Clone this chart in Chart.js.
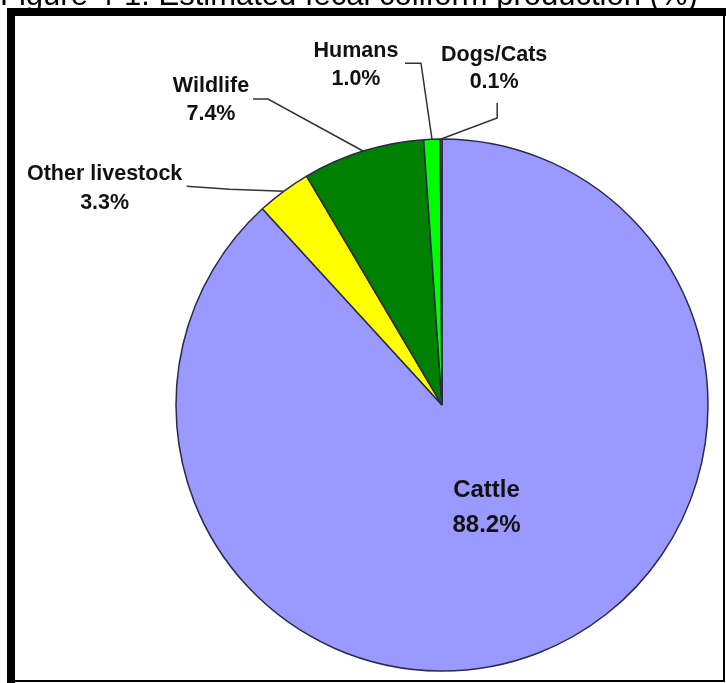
<!DOCTYPE html>
<html><head><meta charset="utf-8">
<script src="https://cdn.jsdelivr.net/npm/chart.js@4.4.1/dist/chart.umd.min.js"></script>
<style>html,body{margin:0;padding:0;background:#fff}canvas{display:block}</style>
</head><body>
<canvas id="c" width="726" height="683"></canvas>
<script>
const categories = ['Cattle', 'Other livestock', 'Wildlife', 'Humans', 'Dogs/Cats'];
const shares = [88.2, 3.3, 7.4, 1.0, 0.1];
const sliceColors = ['#9999FF', '#FFFF00', '#008000', '#00FF00', '#33CCFF'];
const titleText = 'Figure 4-1. Estimated fecal coliform production (%)';

// Label layout: offsets relative to the slice's outer edge at its mid-angle
const labelLayout = [
  {inside: true, frac: 0.41, dx: 5, dy: -18, size: 24, gap: 35},
  {path: [[-54, -2], [-97, -5]], text: [-179, -19], size: 21.5, gap: 29},
  {path: [[-95, -52], [-110, -52]], text: [-152, -67], size: 21.5, gap: 28},
  {path: [[-11, -76], [-27, -76]], text: [-76, -90], size: 21.5, gap: 28.5},
  {path: [[56, -21], [56, -36]], text: [53, -86], size: 21.5, gap: 27.5}
];

const FONT = '"Liberation Sans", Arial, sans-serif';

const decor = {
  id: 'decor',
  afterDraw(chart) {
    const ctx = chart.ctx;
    const meta = chart.getDatasetMeta(0);
    ctx.save();
    // title (cut off at top)
    ctx.fillStyle = '#000';
    ctx.font = '31px ' + FONT;
    ctx.textAlign = 'left';
    ctx.textBaseline = 'alphabetic';
    ctx.fillText(titleText, 0, 5);
    // frame
    ctx.fillRect(7, 8, 719, 8);
    ctx.fillRect(7, 8, 8, 675);
    ctx.fillRect(723, 8, 2, 674);
    ctx.fillRect(7, 680, 718, 2);

    meta.data.forEach((arc, i) => {
      const p = arc.getProps(['x', 'y', 'startAngle', 'endAngle', 'outerRadius'], true);
      const mid = (p.startAngle + p.endAngle) / 2;
      const L = labelLayout[i];
      const lines = [categories[i], shares[i].toFixed(1) + '%'];
      ctx.font = 'bold ' + L.size + 'px ' + FONT;
      ctx.fillStyle = '#111';
      ctx.textAlign = 'center';
      ctx.textBaseline = 'alphabetic';
      const capOff = 0.358 * L.size;
      if (L.inside) {
        const r = p.outerRadius * L.frac;
        const cx = p.x + Math.cos(mid) * r + L.dx;
        const cy = p.y + Math.sin(mid) * r + L.dy;
        ctx.fillText(lines[0], cx, cy + capOff);
        ctx.fillText(lines[1], cx, cy + L.gap + capOff);
      } else {
        const ex = p.x + Math.cos(mid) * p.outerRadius;
        const ey = p.y + Math.sin(mid) * p.outerRadius;
        ctx.strokeStyle = '#333';
        ctx.lineWidth = 1.5;
        ctx.beginPath();
        ctx.moveTo(ex, ey);
        L.path.forEach(o => ctx.lineTo(ex + o[0], ey + o[1]));
        ctx.stroke();
        const tx = ex + L.text[0];
        const ty = ey + L.text[1];
        ctx.fillText(lines[0], tx, ty + capOff);
        ctx.fillText(lines[1], tx, ty + L.gap + capOff);
      }
    });
    ctx.restore();
  }
};

new Chart(document.getElementById('c'), {
  type: 'pie',
  data: {
    labels: categories,
    datasets: [{
      data: shares,
      backgroundColor: sliceColors,
      borderColor: '#2a2a4a',
      borderWidth: 1.5
    }]
  },
  options: {
    responsive: false,
    animation: false,
    radius: 266,
    layout: {padding: {left: 158, top: 127, right: 0, bottom: 0}},
    plugins: {legend: {display: false}, tooltip: {enabled: false}, title: {display: false}}
  },
  plugins: [decor]
});
</script>
</body></html>
